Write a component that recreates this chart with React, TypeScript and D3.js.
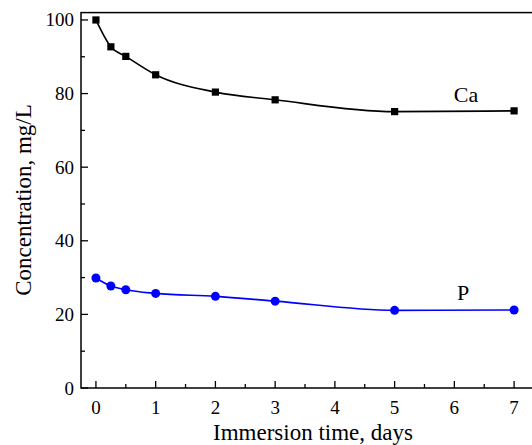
import React from "react";
import * as d3 from "d3";

const days = [0, 0.25, 0.5, 1, 2, 3, 5, 7];
const caValues = [100, 92.7, 90.1, 85.1, 80.4, 78.3, 75.1, 75.3];
const pValues = [29.9, 27.7, 26.7, 25.7, 24.9, 23.6, 21.1, 21.2];
const xMajorTicks = [0, 1, 2, 3, 4, 5, 6, 7];
const xMinorTicks = [0.5, 1.5, 2.5, 3.5, 4.5, 5.5, 6.5];
const yMajorTicks = [0, 20, 40, 60, 80, 100];
const yMinorTicks = [10, 30, 50, 70, 90];
const seriesNames = ["Ca", "P"];
const xTitle = "Immersion time, days";
const yTitle = "Concentration, mg/L";

const W = 532;
const H = 445;
const left = 81;
const right = 535;
const top = 12.6;
const bottom = 388;

export default function App() {
  const x = d3.scaleLinear().domain([-0.25, 7.35]).range([left, right]);
  const y = d3.scaleLinear().domain([0, 102]).range([bottom, top]);
  const line = d3
    .line<number>()
    .x((_, i) => x(days[i]))
    .y((v) => y(v))
    .curve(d3.curveMonotoneX);
  const font = "'Liberation Serif', 'Times New Roman', serif";
  const majorLen = 7;
  const minorLen = 4;
  return (
    <svg
      width={W}
      height={H}
      style={{ position: "absolute", left: 0, top: 0, background: "#fff" }}
      fontFamily={font}
    >
      <rect x={0} y={0} width={W} height={H} fill="#fff" />
      <rect
        x={left}
        y={top}
        width={right - left}
        height={bottom - top}
        fill="none"
        stroke="#000"
        strokeWidth={1.5}
      />
      {xMajorTicks.map((t) => (
        <g key={"xm" + t}>
          <line x1={x(t)} x2={x(t)} y1={bottom} y2={bottom - majorLen} stroke="#000" strokeWidth={1.3} />
          <text x={x(t)} y={413.5} fontSize={19} textAnchor="middle" fill="#000">
            {t}
          </text>
        </g>
      ))}
      {xMinorTicks.map((t) => (
        <line key={"xn" + t} x1={x(t)} x2={x(t)} y1={bottom} y2={bottom - minorLen} stroke="#000" strokeWidth={1.3} />
      ))}
      {yMajorTicks.map((t) => (
        <g key={"ym" + t}>
          <line x1={left} x2={left + majorLen} y1={y(t)} y2={y(t)} stroke="#000" strokeWidth={1.3} />
          <text x={74} y={y(t) + 6.5} fontSize={19} textAnchor="end" fill="#000">
            {t}
          </text>
        </g>
      ))}
      {yMinorTicks.map((t) => (
        <line key={"yn" + t} x1={left} x2={left + minorLen} y1={y(t)} y2={y(t)} stroke="#000" strokeWidth={1.3} />
      ))}
      <text x={313} y={440} fontSize={23} textAnchor="middle" fill="#000">
        {xTitle}
      </text>
      <text
        transform={`translate(31, 200) rotate(-90)`}
        fontSize={23}
        textAnchor="middle"
        fill="#000"
      >
        {yTitle}
      </text>
      <path d={line(caValues) || ""} fill="none" stroke="#000" strokeWidth={1.6} />
      {caValues.map((v, i) => (
        <rect key={"ca" + i} x={x(days[i]) - 3.6} y={y(v) - 3.6} width={7.2} height={7.2} fill="#000" />
      ))}
      <path d={line(pValues) || ""} fill="none" stroke="#0000ff" strokeWidth={1.6} />
      {pValues.map((v, i) => (
        <circle key={"p" + i} cx={x(days[i])} cy={y(v)} r={4.5} fill="#0000ff" />
      ))}
      <text x={466} y={102} fontSize={22} textAnchor="middle" fill="#000">
        {seriesNames[0]}
      </text>
      <text x={463} y={300} fontSize={22} textAnchor="middle" fill="#000">
        {seriesNames[1]}
      </text>
    </svg>
  );
}
